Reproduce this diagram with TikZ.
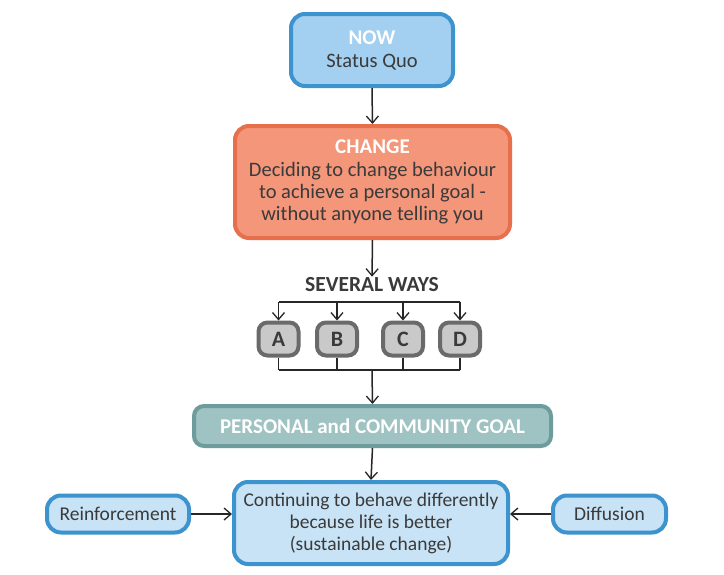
\documentclass[tikz,border=0pt]{standalone}
\usepackage{fontspec}
\setmainfont{Carlito}
\usetikzlibrary{arrows.meta}
\definecolor{txt}{HTML}{3A3A3A}
\definecolor{bluefill}{HTML}{A3CFF0}
\definecolor{bluefilll}{HTML}{C8E3F6}
\definecolor{blueline}{HTML}{3C93CD}
\definecolor{orfill}{HTML}{F4967A}
\definecolor{orline}{HTML}{E86F4C}
\definecolor{grfill}{HTML}{C9C9C9}
\definecolor{grline}{HTML}{6A6A6A}
\definecolor{tlfill}{HTML}{9FC2C2}
\definecolor{tlline}{HTML}{6E9C9C}
\tikzset{
  box/.style={rounded corners=14pt, line width=4pt, align=center, text=txt, inner sep=0pt, font=\fontsize{20.5}{22}\selectfont},
  bluebox/.style={box, draw=blueline, fill=bluefill},
  lbluebox/.style={box, draw=blueline, fill=bluefilll, font=\fontsize{19.5}{22}\selectfont},
  orbox/.style={box, draw=orline, fill=orfill},
  letbox/.style={box, rounded corners=9pt, draw=grline, fill=grfill, minimum width=40pt, minimum height=33pt, font=\fontsize{22}{22}\selectfont\bfseries},
  tlbox/.style={box, rounded corners=10pt, draw=tlline, fill=tlfill, text=white, font=\fontsize{21}{22}\selectfont\bfseries},
  conn/.style={line width=1.5pt, draw=black!85},
  arr/.style={conn, -{Straight Barb[length=7pt,width=12pt,line width=1.3pt]}},
}
\begin{document}
\begin{tikzpicture}[x=1pt,y=-1pt]
\useasboundingbox[fill=white] (0,0) rectangle (724,574);
\node[bluebox, minimum width=162pt, minimum height=72pt] (now) at (372,50)
  {\textcolor{white}{\fontsize{21}{22}\selectfont\bfseries NOW}\\[1pt]Status Quo};
\node[orbox, minimum width=275pt, minimum height=112pt] (change) at (372.5,182)
  {\textcolor{white}{\fontsize{21}{22}\selectfont\bfseries CHANGE}\\[1pt]Deciding to change behaviour\\to achieve a personal goal -\\without anyone telling you};
\node[text=txt, font=\fontsize{21.5}{22}\selectfont\bfseries, inner sep=1pt] (ways) at (372,285) {SEVERAL WAYS};
\node[letbox] (A) at (278.5,339) {A};
\node[letbox] (B) at (337,339) {B};
\node[letbox] (C) at (403,339) {C};
\node[letbox] (D) at (460,339) {D};
\node[tlbox, minimum width=357pt, minimum height=40pt] (goal) at (372.5,426) {PERSONAL and COMMUNITY GOAL};
\node[lbluebox, minimum width=274pt, minimum height=82pt] (cont) at (371,523)
  {Continuing to behave differently\\because life is better\\(sustainable change)};
\node[lbluebox, minimum width=142pt, minimum height=37pt] (reinf) at (118,514) {Reinforcement};
\node[lbluebox, minimum width=113pt, minimum height=37pt] (diff) at (609.5,514) {Diffusion};

\coordinate (top) at (372,302);
\coordinate (bot) at (372,370);
\draw[arr] (now.south) -- (change.north);
\draw[arr] (change.south) -- (ways.north);
\draw[conn] (A.north |- top) -- (D.north |- top);
\foreach \n in {A,B,C,D}{\draw[arr] (\n.north |- top) -- (\n.north);}
\foreach \n in {A,B,C,D}{\draw[conn] (\n.south) -- (\n.south |- bot);}
\draw[conn] (A.south |- bot) -- (D.south |- bot);
\draw[arr] (bot) -- (goal.north);
\draw[arr] (goal.south) -- (cont.north);
\draw[arr] (reinf.east) -- (cont.west |- reinf.east);
\draw[arr] (diff.west) -- (cont.east |- diff.west);
\end{tikzpicture}
\end{document}
